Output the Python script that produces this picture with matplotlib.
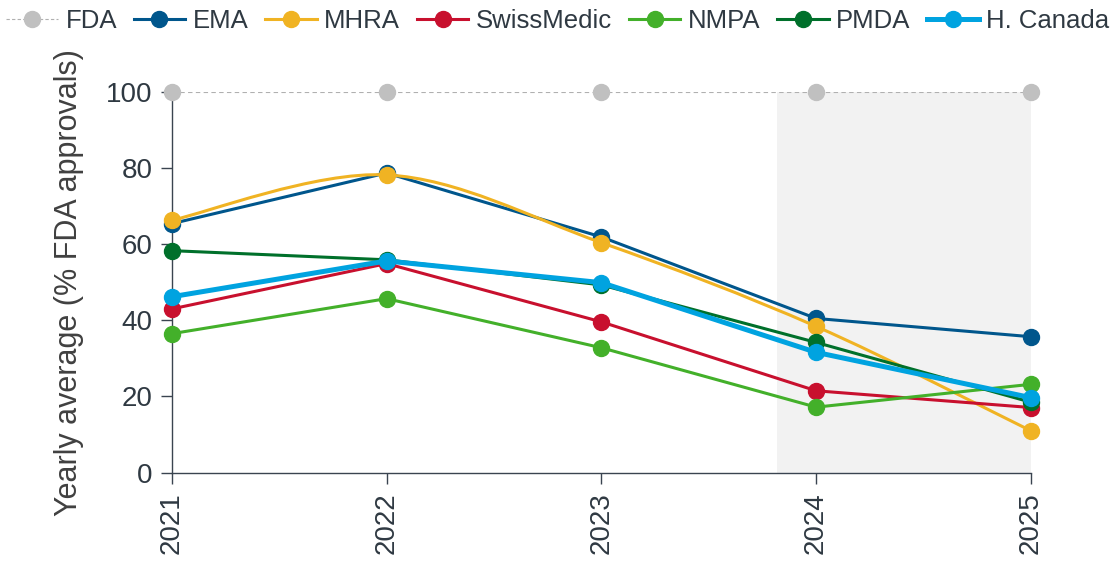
import numpy as np
import matplotlib.pyplot as plt
from matplotlib.path import Path
from matplotlib.patches import PathPatch
from matplotlib.lines import Line2D

plt.rcParams['font.family'] = ['Liberation Sans', 'DejaVu Sans']

#years and yearly averages (% of FDA approvals)
years = [2021, 2022, 2023, 2024, 2025]
fda = [100, 100, 100, 100, 100]
ema = [65.4, 78.7, 61.9, 40.5, 35.7]
mhra = [66.3, 78.2, 60.4, 38.4, 11.0]
swiss = [43.0, 54.9, 39.6, 21.5, 17.1]
nmpa = [36.5, 45.7, 32.8, 17.2, 23.2]
pmda = [58.3, 55.9, 49.3, 34.2, 18.5]
hcanada = [46.2, 55.6, 49.9, 31.6, 19.7]

names = ["FDA", "EMA", "MHRA", "SwissMedic", "NMPA", "PMDA", "H. Canada"]
colors = ["#c0c0c0", "#00568c", "#f0b323", "#c8102e", "#43b02a", "#00702b", "#00a3e0"]

#shaded "recent" window
shade_start = 2023.82

def smooth_path(x, y):
    #catmull-rom -> cubic bezier, like a smoothed spreadsheet line
    x = np.asarray(x, float)
    y = np.asarray(y, float)
    verts = [(x[0], y[0])]
    codes = [Path.MOVETO]
    n = len(x)
    for i in range(n - 1):
        x0, y0 = (x[i - 1], y[i - 1]) if i > 0 else (x[i], y[i])
        x3, y3 = (x[i + 2], y[i + 2]) if i + 2 < n else (x[i + 1], y[i + 1])
        c1 = (x[i] + (x[i + 1] - x0) / 6, y[i] + (y[i + 1] - y0) / 6)
        c2 = (x[i + 1] - (x3 - x[i]) / 6, y[i + 1] - (y3 - y[i]) / 6)
        verts += [c1, c2, (x[i + 1], y[i + 1])]
        codes += [Path.CURVE4] * 3
    return Path(verts, codes)

fig = plt.figure(figsize=(11.16, 5.62), dpi=100)
ax = fig.add_axes([0.154, 0.159, 0.7697, 0.6775])

ax.axvspan(shade_start, 2025, ymin=0, ymax=1, color="#f2f2f2", zorder=0, lw=0)

lw = 2.2
ms = 11.5
handles = []

ax.plot(years, fda, color="#b0b0b0", lw=0.8, ls=(0, (4, 3)), zorder=1)
ax.plot(years, fda, "o", color=colors[0], ms=ms, zorder=5, clip_on=False)
handles.append(Line2D([], [], color="#b0b0b0", lw=0.8, ls=(0, (3, 2)), marker="o",
                      ms=ms, mfc=colors[0], mec=colors[0]))

series = [ema, mhra, swiss, nmpa, pmda, hcanada]
for i, s in enumerate(series):
    c = colors[i + 1]
    w = 3.6 if names[i + 1] == "H. Canada" else lw
    if names[i + 1] == "MHRA":
        ax.add_patch(PathPatch(smooth_path(years, s), fill=False, ec=c, lw=w, zorder=3 + i * 0.1))
        ax.plot(years, s, "o", color=c, ms=ms, zorder=3 + i * 0.1, clip_on=False)
    else:
        ax.plot(years, s, "-o", color=c, lw=w, ms=ms, zorder=3 + i * 0.1, clip_on=False)
    handles.append(Line2D([], [], color=c, lw=w, marker="o", ms=ms))

ax.set_xlim(2021, 2025)
ax.set_ylim(0, 100)
ax.set_xticks(years)
ax.set_xticklabels([str(y) for y in years], rotation=90)
ax.set_yticks([0, 20, 40, 60, 80, 100])

for side in ["top", "right"]:
    ax.spines[side].set_visible(False)
for side in ["left", "bottom"]:
    ax.spines[side].set_color("#3a4450")
    ax.spines[side].set_linewidth(1.0)
ax.tick_params(colors="#3a4450", labelcolor="#2f3942", labelsize=20, length=8, width=1.0, pad=6)
ax.set_ylabel("Yearly average (% FDA approvals)", fontsize=22, color="#404040", labelpad=16)

fig.legend(handles, names, loc="upper center", bbox_to_anchor=(0.5, 1.025), ncol=7,
           frameon=False, fontsize=18.5, handlelength=2.0, handletextpad=0.3,
           columnspacing=0.65, labelcolor="#2f3942")

fig.savefig("out.png", dpi=100)
